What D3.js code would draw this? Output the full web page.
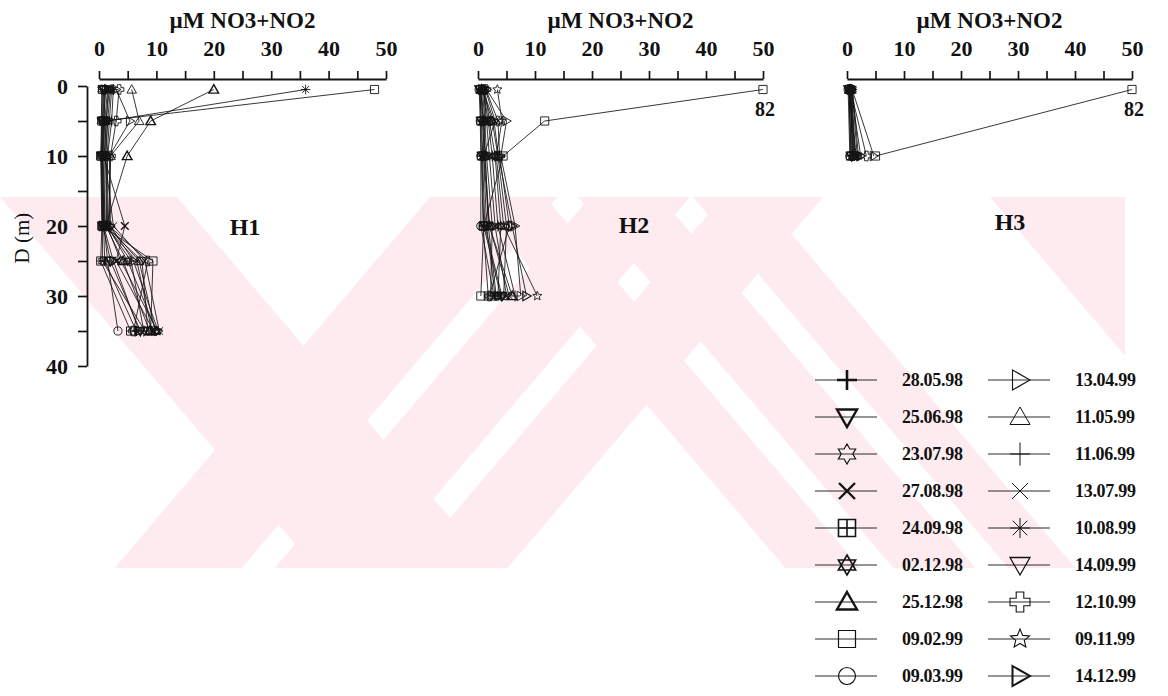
<!DOCTYPE html>
<html>
<head>
<meta charset="utf-8">
<script src="https://cdn.jsdelivr.net/npm/d3@7"></script>
<style>
  body { margin: 0; background: #ffffff; }
  svg text { font-family: "Liberation Serif", "Times New Roman", serif; fill: #111; }
</style>
</head>
<body>
<svg id="chart" width="1168" height="696"></svg>
<script>
// ---- data ---------------------------------------------------------------
const sampleDates = [
  "28.05.98", "25.06.98", "23.07.98", "27.08.98", "24.09.98", "02.12.98",
  "25.12.98", "09.02.99", "09.03.99", "13.04.99", "11.05.99", "11.06.99",
  "13.07.99", "10.08.99", "14.09.99", "12.10.99", "09.11.99", "14.12.99"
];

const stations = ["H1", "H2", "H3"];

// sampling depths (m)
const depthsH1 = [0.5, 5, 10, 20, 25, 35];
const depthsH2 = [0.5, 5, 10, 20, 30];
const depthsH3 = [0.5, 10];

// NO3+NO2 (µM), one row per sampling date, one column per depth
const valuesH1 = [
  [1.2, 0.8, 0.6, 0.8, 1.0, 6.5],
  [0.8, 0.6, 0.5, 0.7, 2.0, 7.2],
  [0.5, 0.4, 0.4, 0.6, 0.6, 8.0],
  [1.5, 1.0, 0.8, 4.5, 3.0, 9.5],
  [0.6, 0.5, 0.3, 0.5, 0.3, 5.5],
  [2.0, 1.5, 1.2, 1.5, 5.0, 10.0],
  [20.0, 9.0, 4.9, 1.2, 4.2, 8.8],
  [48.0, 0.8, 0.4, 0.6, 9.4, 9.0],
  [0.9, 0.7, 0.6, 0.9, 1.5, 3.3],
  [3.0, 5.4, 1.8, 2.0, 6.0, 10.3],
  [5.7, 7.0, 2.0, 1.6, 7.0, 9.8],
  [2.5, 2.2, 1.5, 1.3, 5.6, 7.8],
  [1.8, 1.2, 1.0, 2.5, 8.0, 10.5],
  [36.0, 1.5, 1.1, 1.0, 6.6, 9.2],
  [1.0, 0.9, 0.7, 1.1, 7.5, 8.5],
  [3.5, 3.0, 2.0, 1.8, 8.5, 6.0],
  [2.2, 1.8, 1.4, 1.4, 3.8, 10.2],
  [1.6, 1.3, 0.9, 0.8, 2.5, 7.0]
];

const valuesH2 = [
  [0.5, 0.8, 1.0, 1.5, 3.0],
  [0.3, 0.6, 0.8, 1.2, 4.2],
  [0.8, 1.2, 1.5, 2.5, 2.2],
  [1.0, 1.5, 2.0, 3.0, 5.0],
  [0.4, 0.5, 0.6, 0.9, 1.8],
  [1.2, 2.0, 3.0, 4.0, 3.5],
  [0.6, 1.0, 1.2, 2.0, 6.0],
  [82.0, 11.7, 4.4, 1.0, 0.5],
  [0.2, 0.4, 0.5, 0.5, 2.8],
  [1.5, 5.0, 4.0, 6.5, 7.5],
  [0.7, 2.5, 3.5, 5.0, 4.5],
  [0.9, 1.8, 2.5, 3.5, 6.5],
  [1.3, 3.0, 1.0, 2.0, 5.5],
  [1.1, 1.3, 0.7, 1.0, 4.0],
  [0.5, 0.9, 1.3, 1.8, 3.2],
  [1.4, 3.5, 3.8, 5.5, 2.0],
  [3.4, 4.2, 3.2, 4.5, 10.4],
  [0.8, 2.8, 3.6, 6.0, 8.5]
];

const valuesH3 = [
  [0.5, 1.0],
  [0.3, 0.8],
  [0.6, 1.2],
  [0.8, 1.5],
  [0.4, 0.6],
  [0.9, 1.8],
  [0.5, 1.1],
  [82.0, 5.0],
  [0.2, 0.5],
  [0.9, 4.7],
  [0.6, 1.4],
  [0.7, 0.9],
  [1.0, 2.0],
  [0.8, 1.3],
  [0.4, 0.7],
  [0.6, 3.4],
  [0.3, 1.6],
  [0.7, 2.4]
];

const xTickValues = [0, 5, 10, 15, 20, 25, 30, 35, 40, 45, 50];
const xTickLabels = [0, 10, 20, 30, 40, 50];
const yTickValues = [0, 5, 10, 15, 20, 25, 30, 35, 40];
const yTickLabels = [0, 10, 20, 30, 40];

const xTitle = "µM NO3+NO2";
const yTitle = "D (m)";

// ---- marker styles per sampling date ---------------------------------------
const markerStyle = {
  "28.05.98": { shape: "plus",         weight: 2.6 },
  "25.06.98": { shape: "triDown",      weight: 2.4 },
  "23.07.98": { shape: "hexOutline",   weight: 1.2 },
  "27.08.98": { shape: "cross",        weight: 2.4 },
  "24.09.98": { shape: "squareCross",  weight: 1.6 },
  "02.12.98": { shape: "hexagram",     weight: 1.6 },
  "25.12.98": { shape: "triUp",        weight: 2.4 },
  "09.02.99": { shape: "square",       weight: 1.2 },
  "09.03.99": { shape: "circle",       weight: 1.2 },
  "13.04.99": { shape: "triRight",     weight: 1.1 },
  "11.05.99": { shape: "triUp",        weight: 1.0 },
  "11.06.99": { shape: "plusTall",     weight: 1.0 },
  "13.07.99": { shape: "cross",        weight: 1.0 },
  "10.08.99": { shape: "asterisk",     weight: 1.0 },
  "14.09.99": { shape: "triDown",      weight: 1.3 },
  "12.10.99": { shape: "crossOutline", weight: 1.1 },
  "09.11.99": { shape: "star5",        weight: 1.1 },
  "14.12.99": { shape: "triRight",     weight: 2.0 }
};

function poly(pts) {
  return "M" + pts.map(p => p[0].toFixed(2) + "," + p[1].toFixed(2)).join("L") + "Z";
}

function shapePath(shape, r) {
  switch (shape) {
    case "plus":
      return `M${-r},0H${r}M0,${-r}V${r}`;
    case "plusTall":
      return `M${-r},0H${r}M0,${-r * 1.15}V${r * 1.15}`;
    case "cross": {
      const k = r * 0.8;
      return `M${-k},${-k}L${k},${k}M${-k},${k}L${k},${-k}`;
    }
    case "asterisk": {
      const k = r * 0.72;
      return `M${-r},0H${r}M0,${-r}V${r}M${-k},${-k}L${k},${k}M${-k},${k}L${k},${-k}`;
    }
    case "triUp":
      return poly([[0, -r], [r, r * 0.75], [-r, r * 0.75]]);
    case "triDown":
      return poly([[-r, -r * 0.75], [r, -r * 0.75], [0, r]]);
    case "triRight":
      return poly([[-r * 0.75, -r], [r, 0], [-r * 0.75, r]]);
    case "square": {
      const s = r * 0.85;
      return `M${-s},${-s}H${s}V${s}H${-s}Z`;
    }
    case "squareCross": {
      const s = r * 0.85;
      return `M${-s},${-s}H${s}V${s}H${-s}ZM0,${-s}V${s}M${-s},0H${s}`;
    }
    case "circle": {
      const c = r * 0.85;
      return `M${c},0A${c},${c} 0 1,1 ${-c},0A${c},${c} 0 1,1 ${c},0Z`;
    }
    case "hexagram": {
      const a = r * 0.866, b = r * 0.5;
      return poly([[0, -r], [a, b], [-a, b]]) + poly([[0, r], [a, -b], [-a, -b]]);
    }
    case "hexOutline": {
      const pts = [];
      for (let i = 0; i < 12; i++) {
        const rad = i % 2 === 0 ? r : r * 0.577;
        const ang = -Math.PI / 2 + i * Math.PI / 6;
        pts.push([rad * Math.cos(ang), rad * Math.sin(ang)]);
      }
      return poly(pts);
    }
    case "star5": {
      const pts = [];
      for (let i = 0; i < 10; i++) {
        const rad = i % 2 === 0 ? r : r * 0.45;
        const ang = -Math.PI / 2 + i * Math.PI / 5;
        pts.push([rad * Math.cos(ang), rad * Math.sin(ang)]);
      }
      return poly(pts);
    }
    case "crossOutline": {
      const a = r * 0.38;
      return poly([[-a, -r], [a, -r], [a, -a], [r, -a], [r, a], [a, a],
                   [a, r], [-a, r], [-a, a], [-r, a], [-r, -a], [-a, -a]]);
    }
  }
  return "";
}

// ---- layout ----------------------------------------------------------------
const svg = d3.select("#chart");
const ink = "#141414";

// faint diagonal background stripes of the printed page
const stripeTop = 197, stripeBottom = 568, stripeRight = 1125, stripeLean = 0.85;
const stripeBands = [
  { lean: 1,  from: 0,   to: 177 },
  { lean: -1, from: 430, to: 557 },
  { lean: -1, from: 590, to: 690 },
  { lean: -1, from: 723, to: 823 },
  { lean: 1,  from: 470, to: 545 },
  { lean: 1,  from: 578, to: 660 },
  { lean: 1,  from: 693, to: 760 },
  { lean: 1,  from: 990, to: 1125 }
];
const defs = svg.append("defs");
defs.append("clipPath").attr("id", "stripe-clip")
  .append("rect")
  .attr("x", 0).attr("y", stripeTop)
  .attr("width", stripeRight).attr("height", stripeBottom - stripeTop);
const span = (stripeBottom - stripeTop) * stripeLean;
svg.append("g")
  .attr("clip-path", "url(#stripe-clip)")
  .selectAll("path")
  .data(stripeBands)
  .join("path")
  .attr("d", b => poly([
    [b.from, stripeTop], [b.to, stripeTop],
    [b.to + b.lean * span, stripeBottom], [b.from + b.lean * span, stripeBottom]
  ]))
  .attr("fill", "#fdebef");

const y = d3.scaleLinear().domain([0, 40]).range([86, 366]);
const axisY = 79;

const panelLayout = {
  H1: { range: [99, 386], label: [245, 227], depths: depthsH1, values: valuesH1 },
  H2: { range: [478, 763], label: [634, 225], depths: depthsH2, values: valuesH2 },
  H3: { range: [847, 1132], label: [1010, 222], depths: depthsH3, values: valuesH3 }
};

function styleAxis(g) {
  g.attr("font-family", null).attr("font-size", null);
  g.select(".domain").attr("stroke", ink).attr("stroke-width", 1.8);
  g.selectAll(".tick line").attr("stroke", ink).attr("stroke-width", 1.7);
  g.selectAll(".tick text")
    .attr("font-size", 22).attr("font-weight", "bold").attr("fill", ink);
}

stations.forEach(name => {
  const p = panelLayout[name];
  const x = d3.scaleLinear().domain([0, 50]).range(p.range).clamp(true);
  const g = svg.append("g").attr("class", "panel-" + name);

  // top value axis
  g.append("g")
    .attr("transform", `translate(0,${axisY})`)
    .call(d3.axisTop(x)
      .tickValues(xTickValues)
      .tickSize(8).tickSizeOuter(0).tickPadding(15)
      .tickFormat(d => xTickLabels.includes(d) ? d : ""))
    .call(styleAxis);

  g.append("text")
    .attr("x", (p.range[0] + p.range[1]) / 2).attr("y", 28)
    .attr("text-anchor", "middle")
    .attr("font-size", 23).attr("font-weight", "bold")
    .text(xTitle);

  // station name
  g.append("text")
    .attr("x", p.label[0]).attr("y", p.label[1])
    .attr("dy", "0.35em").attr("text-anchor", "middle")
    .attr("font-size", 24).attr("font-weight", "bold")
    .text(name);

  const line = d3.line().x(q => x(q.v)).y(q => y(q.d));

  sampleDates.forEach((date, i) => {
    const pts = p.depths.map((d, j) => ({ d, v: p.values[i][j] }))
      .filter(q => q.v != null);
    const st = markerStyle[date];

    g.append("path")
      .attr("d", line(pts))
      .attr("fill", "none")
      .attr("stroke", ink)
      .attr("stroke-width", 0.85);

    g.selectAll(null)
      .data(pts)
      .join("path")
      .attr("transform", q => `translate(${x(q.v)},${y(q.d)})`)
      .attr("d", shapePath(st.shape, 4.8))
      .attr("fill", "none")
      .attr("stroke", ink)
      .attr("stroke-width", Math.max(0.9, st.weight * 0.6));

    // values beyond the axis end are pinned at 50 and annotated
    pts.filter(q => q.v > 50).forEach(q => {
      g.append("text")
        .attr("x", x(q.v) + 2).attr("y", y(q.d) + 26)
        .attr("text-anchor", "middle")
        .attr("font-size", 20).attr("font-weight", "bold")
        .text(q.v);
    });
  });
});

// depth axis (left of H1 only)
svg.append("g")
  .attr("transform", "translate(87,0)")
  .call(d3.axisLeft(y)
    .tickValues(yTickValues)
    .tickSize(9).tickSizeOuter(0).tickPadding(10)
    .tickFormat(d => yTickLabels.includes(d) ? d : ""))
  .call(styleAxis);

svg.append("text")
  .attr("transform", "translate(29,238) rotate(-90)")
  .attr("text-anchor", "middle")
  .attr("font-size", 21)
  .text(yTitle);

// ---- legend ----------------------------------------------------------------
const legendCols = [{ sym: 847, text: 902 }, { sym: 1020, text: 1075 }];
const legendTop = 380, legendStep = 37, legendRows = 9;

const legend = svg.append("g").attr("class", "legend");
sampleDates.forEach((date, i) => {
  const col = legendCols[Math.floor(i / legendRows)];
  const ly = legendTop + (i % legendRows) * legendStep;
  const st = markerStyle[date];
  legend.append("line")
    .attr("x1", col.sym - 32).attr("x2", col.sym + 30)
    .attr("y1", ly).attr("y2", ly)
    .attr("stroke", "#2a2a2a").attr("stroke-width", 1);
  legend.append("path")
    .attr("transform", `translate(${col.sym},${ly})`)
    .attr("d", shapePath(st.shape, 10))
    .attr("fill", "none")
    .attr("stroke", ink)
    .attr("stroke-width", st.weight);
  legend.append("text")
    .attr("x", col.text).attr("y", ly)
    .attr("dy", "0.35em")
    .attr("font-size", 18).attr("font-weight", "bold")
    .attr("letter-spacing", -0.3)
    .text(date);
});
</script>
</body>
</html>
